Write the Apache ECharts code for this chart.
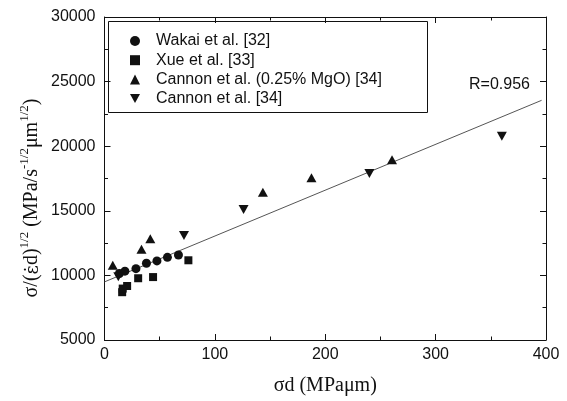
<!DOCTYPE html>
<html>
<head>
<meta charset="utf-8">
<script src="https://cdn.jsdelivr.net/npm/echarts@6/dist/echarts.min.js"></script>
<style>
  html, body { margin: 0; padding: 0; background: #fff; }
  #chart { width: 567px; height: 401px; }
</style>
</head>
<body>
<div id="chart"></div>
<script>
// ---- data ----
const seriesNames = ['Wakai et al. [32]', 'Xue et al. [33]', 'Cannon et al. (0.25% MgO) [34]', 'Cannon et al. [34]'];
const wakai = [[13.5, 10150], [18.5, 10330], [28.5, 10520], [38, 10940], [47.5, 11120], [57, 11400], [67, 11580]];
const xue = [[16, 8700], [16.5, 8980], [20.5, 9180], [30.5, 9780], [44, 9870], [76, 11170]];
const cannonMgO = [[7.5, 10780], [33.5, 12020], [41.5, 12830], [143.5, 16430], [187.5, 17560], [260.5, 18950]];
const cannon = [[12.5, 9900], [72, 13090], [126, 15100], [240, 17880], [360, 20770]];
const fitLine = [[0, 9500], [396, 23550]];
const rText = 'R=0.956';
const xRange = [0, 400];
const xStep = 100;
const yRange = [5000, 30000];
const yStep = 5000;
const xName = 'σd (MPaμm)';

const sans = '"Liberation Sans", Arial, Helvetica, sans-serif';
const serif = '"Liberation Serif", "DejaVu Serif", "Times New Roman", serif';
const ink = '#111';

const chart = echarts.init(document.getElementById('chart'), null, { renderer: 'canvas' });

const boxAxisX = (pos, showLabel) => ({
  type: 'value', position: pos, min: xRange[0], max: xRange[1], interval: xStep,
  axisLine: { show: true, onZero: false, lineStyle: { color: ink, width: 1 } },
  axisTick: { show: true, inside: true, length: 6, lineStyle: { color: ink } },
  minorTick: { show: true, splitNumber: 2, length: 3.5, lineStyle: { color: ink } },
  splitLine: { show: false },
  axisLabel: { show: showLabel, color: ink, fontFamily: sans, fontSize: 16, margin: 7, formatter: v => String(v) }
});
const boxAxisY = (pos, showLabel) => ({
  type: 'value', position: pos, min: yRange[0], max: yRange[1], interval: yStep,
  axisLine: { show: true, onZero: false, lineStyle: { color: ink, width: 1 } },
  axisTick: { show: true, inside: true, length: 6, lineStyle: { color: ink } },
  minorTick: { show: true, splitNumber: 2, length: 3.5, lineStyle: { color: ink } },
  splitLine: { show: false },
  axisLabel: { show: showLabel, color: ink, fontFamily: sans, fontSize: 16, margin: 9, formatter: v => String(v) }
});

const xb = boxAxisX('bottom', true);
xb.name = xName;
xb.nameLocation = 'middle';
xb.nameGap = 36;
xb.nameTextStyle = { fontFamily: serif, fontSize: 20, color: ink };

const downTri = 'path://M0,0L10,0L5,9Z';
const mark = { color: ink, opacity: 1 };

const option = {
  backgroundColor: '#fff',
  animation: false,
  grid: { left: 104.5, right: 21, top: 17, bottom: 58, containLabel: false },
  xAxis: [xb, boxAxisX('top', false)],
  yAxis: [boxAxisY('left', true), boxAxisY('right', false)],
  legend: {
    data: seriesNames,
    orient: 'vertical',
    left: 108, top: 21,
    padding: [12, 10, 5, 22],
    itemGap: 3.2,
    itemWidth: 10, itemHeight: 10,
    selectedMode: false,
    borderWidth: 0,
    itemStyle: { opacity: 1 },
    textStyle: { fontFamily: sans, fontSize: 16, color: ink, lineHeight: 16, padding: [0, 0, 0, 11] }
  },
  graphic: [
    {
      type: 'rect', z: 0, silent: true,
      shape: { x: 108.5, y: 21.5, width: 319, height: 91 },
      style: { fill: 'none', stroke: ink, lineWidth: 1 }
    },
    {
      type: 'text', left: 469, top: 77,
      style: { text: rText, font: '16px ' + sans, fill: ink }
    },
    {
      type: 'text', x: 30, y: 198, rotation: Math.PI / 2,
      style: {
        text: '{m|σ/(}{e|ε̇}{m|d)}{s|1/2}{m| (MPa/s}{s|-1/2}{m|μm}{s|1/2}{m|)}',
        align: 'center', verticalAlign: 'middle', fill: ink,
        rich: {
          m: { fontFamily: serif, fontSize: 20, lineHeight: 24, verticalAlign: 'bottom', fill: ink },
          e: { fontFamily: '"DejaVu Serif", serif', fontSize: 18, lineHeight: 24, verticalAlign: 'bottom', fill: ink },
          s: { fontFamily: serif, fontSize: 13, lineHeight: 24, verticalAlign: 'top', fill: ink }
        }
      }
    }
  ],
  series: [
    { name: seriesNames[0], type: 'scatter', data: wakai, symbol: 'circle', symbolSize: 9, itemStyle: mark },
    { name: seriesNames[1], type: 'scatter', data: xue, symbol: 'rect', symbolSize: 8, itemStyle: mark },
    { name: seriesNames[2], type: 'scatter', data: cannonMgO, symbol: 'triangle', symbolSize: [10, 9], itemStyle: mark },
    { name: seriesNames[3], type: 'scatter', data: cannon, symbol: downTri, symbolSize: [10, 9], itemStyle: mark },
    { name: 'fit', type: 'line', data: fitLine, showSymbol: false, symbol: 'none', silent: true,
      lineStyle: { color: '#555', width: 1 }, z: 1 }
  ]
};
chart.setOption(option);
</script>
</body>
</html>
